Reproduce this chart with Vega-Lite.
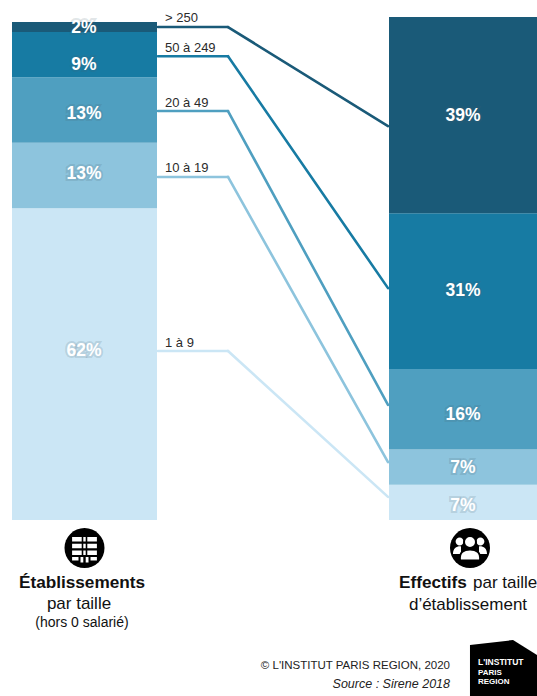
{
  "$schema": "https://vega.github.io/schema/vega-lite/v6.json",
  "width": 537,
  "height": 696,
  "padding": 0,
  "autosize": {"type": "none"},
  "background": "white",
  "config": {
    "view": {"stroke": null},
    "axis": {"disable": true},
    "legend": {"disable": true},
    "text": {"font": "Liberation Sans"}
  },
  "datasets": {
    "bars": [
      {"group": "etablissements", "size": "1 à 9", "rank": 1, "share": 62, "label": "62%", "labelAt": 33.5},
      {"group": "etablissements", "size": "10 à 19", "rank": 2, "share": 13, "label": "13%", "labelAt": 68.8},
      {"group": "etablissements", "size": "20 à 49", "rank": 3, "share": 13, "label": "13%", "labelAt": 80.7},
      {"group": "etablissements", "size": "50 à 249", "rank": 4, "share": 9, "label": "9%", "labelAt": 90.5},
      {"group": "etablissements", "size": "> 250", "rank": 5, "share": 2, "label": "2%", "labelAt": 97.8},
      {"group": "effectifs", "size": "1 à 9", "rank": 1, "share": 7, "label": "7%", "labelAt": 2.7},
      {"group": "effectifs", "size": "10 à 19", "rank": 2, "share": 7, "label": "7%", "labelAt": 10.3},
      {"group": "effectifs", "size": "20 à 49", "rank": 3, "share": 16, "label": "16%", "labelAt": 20.8},
      {"group": "effectifs", "size": "50 à 249", "rank": 4, "share": 31, "label": "31%", "labelAt": 45.5},
      {"group": "effectifs", "size": "> 250", "rank": 5, "share": 39, "label": "39%", "labelAt": 80.3}
    ],
    "links": [
      {"size": "1 à 9", "from": 33.6, "to": 4.6, "tagAt": 35.2},
      {"size": "10 à 19", "from": 68.2, "to": 11.5, "tagAt": 70},
      {"size": "20 à 49", "from": 81.3, "to": 22.9, "tagAt": 82.9},
      {"size": "50 à 249", "from": 92.2, "to": 46.1, "tagAt": 93.9},
      {"size": "> 250", "from": 98, "to": 78.3, "tagAt": 99.8}
    ]
  },
  "layer": [
    {
      "data": {"name": "bars"},
      "transform": [
        {"filter": "datum.group === 'etablissements'"},
        {"stack": "share", "groupby": ["group"], "sort": [{"field": "rank", "order": "ascending"}], "as": ["y0", "y1"]}
      ],
      "mark": {"type": "rect"},
      "encoding": {
        "x": {"datum": 12, "type": "quantitative", "scale": {"domain": [0, 537], "nice": false, "zero": false}},
        "x2": {"datum": 157},
        "y": {"field": "y0", "type": "quantitative", "scale": {"domain": [-34.99, 103.38], "nice": false, "zero": false}},
        "y2": {"field": "y1"},
        "color": {"field": "size", "type": "nominal", "scale": {"domain": ["> 250", "50 à 249", "20 à 49", "10 à 19", "1 à 9"], "range": ["#1a5a78", "#177ba3", "#4f9fc0", "#8dc4dd", "#cbe6f5"]}}
      }
    },
    {
      "data": {"name": "bars"},
      "transform": [
        {"filter": "datum.group === 'effectifs'"},
        {"stack": "share", "groupby": ["group"], "sort": [{"field": "rank", "order": "ascending"}], "as": ["y0", "y1"]}
      ],
      "mark": {"type": "rect"},
      "encoding": {
        "x": {"datum": 389, "type": "quantitative"},
        "x2": {"datum": 537},
        "y": {"field": "y0", "type": "quantitative"},
        "y2": {"field": "y1"},
        "color": {"field": "size", "type": "nominal"}
      }
    },
    {
      "data": {"name": "links"},
      "mark": {"type": "rule", "strokeWidth": 2.6, "strokeCap": "round"},
      "encoding": {
        "x": {"datum": 158, "type": "quantitative"},
        "x2": {"datum": 228},
        "y": {"field": "from", "type": "quantitative"},
        "color": {"field": "size", "type": "nominal"}
      }
    },
    {
      "data": {"name": "links"},
      "mark": {"type": "rule", "strokeWidth": 2.6, "strokeCap": "round"},
      "encoding": {
        "x": {"datum": 228, "type": "quantitative"},
        "x2": {"datum": 388},
        "y": {"field": "from", "type": "quantitative"},
        "y2": {"field": "to"},
        "color": {"field": "size", "type": "nominal"}
      }
    },
    {
      "data": {"name": "links"},
      "mark": {"type": "text", "align": "left", "baseline": "middle", "fontSize": 13, "fill": "#2b2b2b"},
      "encoding": {
        "x": {"datum": 165, "type": "quantitative"},
        "y": {"field": "tagAt", "type": "quantitative"},
        "text": {"field": "size"}
      }
    },
    {
      "data": {"name": "bars"},
      "transform": [{"filter": "datum.group === 'etablissements'"}],
      "mark": {"type": "text", "align": "center", "baseline": "middle", "fontSize": 17.5, "fontWeight": "bold", "stroke": "#46606e", "strokeWidth": 4, "strokeOpacity": 0.16, "fill": "transparent"},
      "encoding": {
        "x": {"datum": 84, "type": "quantitative"},
        "y": {"field": "labelAt", "type": "quantitative"},
        "text": {"field": "label"}
      }
    },
    {
      "data": {"name": "bars"},
      "transform": [{"filter": "datum.group === 'etablissements'"}],
      "mark": {"type": "text", "align": "center", "baseline": "middle", "fontSize": 17.5, "fontWeight": "bold", "fill": "white"},
      "encoding": {
        "x": {"datum": 84, "type": "quantitative"},
        "y": {"field": "labelAt", "type": "quantitative"},
        "text": {"field": "label"}
      }
    },
    {
      "data": {"name": "bars"},
      "transform": [{"filter": "datum.group === 'effectifs'"}],
      "mark": {"type": "text", "align": "center", "baseline": "middle", "fontSize": 17.5, "fontWeight": "bold", "stroke": "#46606e", "strokeWidth": 4, "strokeOpacity": 0.16, "fill": "transparent"},
      "encoding": {
        "x": {"datum": 463, "type": "quantitative"},
        "y": {"field": "labelAt", "type": "quantitative"},
        "text": {"field": "label"}
      }
    },
    {
      "data": {"name": "bars"},
      "transform": [{"filter": "datum.group === 'effectifs'"}],
      "mark": {"type": "text", "align": "center", "baseline": "middle", "fontSize": 17.5, "fontWeight": "bold", "fill": "white"},
      "encoding": {
        "x": {"datum": 463, "type": "quantitative"},
        "y": {"field": "labelAt", "type": "quantitative"},
        "text": {"field": "label"}
      }
    },
    {
      "data": {"values": [{"icon": "etablissements"}]},
      "mark": {"type": "point", "shape": "circle", "filled": true, "fill": "#000000", "size": 1600, "opacity": 1},
      "encoding": {"x": {"datum": 84.5, "type": "quantitative"}, "y": {"datum": -5.57, "type": "quantitative"}}
    },
    {
      "data": {"values": [{"icon": "etablissements"}]},
      "mark": {"type": "point", "filled": true, "fill": "#ffffff", "size": 1600, "opacity": 1,
        "shape": "M-.62 -.55H-.14V-.33H-.62ZM-.06 -.55H.06V-.33H-.06ZM.14 -.55H.62V-.33H.14ZM-.62 -.21H-.14V.01H-.62ZM-.06 -.21H.06V.01H-.06ZM.14 -.21H.62V.01H.14ZM-.62 .13H-.14V.35H-.62ZM-.06 .13H.06V.35H-.06ZM.14 .13H.62V.35H.14ZM-.2 .45H-.06V.72H-.2ZM.06 .45H.2V.72H.06ZM-.62 .45H-.3V.62H-.62ZM.3 .45H.62V.62H.3Z"},
      "encoding": {"x": {"datum": 84.5, "type": "quantitative"}, "y": {"datum": -5.57, "type": "quantitative"}}
    },
    {
      "data": {"values": [{"icon": "effectifs"}]},
      "mark": {"type": "point", "shape": "circle", "filled": true, "fill": "#000000", "size": 1600, "opacity": 1},
      "encoding": {"x": {"datum": 470, "type": "quantitative"}, "y": {"datum": -5.57, "type": "quantitative"}}
    },
    {
      "data": {"values": [{"icon": "effectifs"}]},
      "mark": {"type": "point", "filled": true, "fill": "#ffffff", "size": 1600, "opacity": 1,
        "shape": "M-.72 -.32a.2 .2 0 1 0 .4 0a.2 .2 0 1 0 -.4 0ZM.32 -.32a.2 .2 0 1 0 .4 0a.2 .2 0 1 0 -.4 0ZM-.85 .3C-.85 0 -.65 -.1 -.45 -.08L-.45 .3ZM.85 .3C.85 0 .65 -.1 .45 -.08L.45 .3Z"},
      "encoding": {"x": {"datum": 470, "type": "quantitative"}, "y": {"datum": -5.57, "type": "quantitative"}}
    },
    {
      "data": {"values": [{"icon": "effectifs"}]},
      "mark": {"type": "point", "filled": true, "fill": "#ffffff", "stroke": "#000000", "strokeWidth": 2, "size": 1600, "opacity": 1,
        "shape": "M-.3 -.3a.3 .3 0 1 0 .6 0a.3 .3 0 1 0 -.6 0ZM-.5 .62C-.55 .2 -.3 .08 0 .08C.3 .08 .55 .2 .5 .62Z"},
      "encoding": {"x": {"datum": 470, "type": "quantitative"}, "y": {"datum": -5.57, "type": "quantitative"}}
    },
    {
      "data": {"values": [{"t": "Établissements"}]},
      "mark": {"type": "text", "align": "center", "baseline": "middle", "fontSize": 17.2, "fontWeight": "bold", "fill": "#111111"},
      "encoding": {"x": {"datum": 82, "type": "quantitative"}, "y": {"datum": -12.53, "type": "quantitative"}, "text": {"field": "t"}}
    },
    {
      "data": {"values": [{"t": "par taille"}]},
      "mark": {"type": "text", "align": "center", "baseline": "middle", "fontSize": 17, "fill": "#111111"},
      "encoding": {"x": {"datum": 79, "type": "quantitative"}, "y": {"datum": -16.7, "type": "quantitative"}, "text": {"field": "t"}}
    },
    {
      "data": {"values": [{"t": "(hors 0 salarié)"}]},
      "mark": {"type": "text", "align": "center", "baseline": "middle", "fontSize": 14, "fill": "#111111"},
      "encoding": {"x": {"datum": 82, "type": "quantitative"}, "y": {"datum": -20.48, "type": "quantitative"}, "text": {"field": "t"}}
    },
    {
      "data": {"values": [{"t": "Effectifs"}]},
      "mark": {"type": "text", "align": "left", "baseline": "middle", "fontSize": 17.2, "fontWeight": "bold", "fill": "#111111"},
      "encoding": {"x": {"datum": 399, "type": "quantitative"}, "y": {"datum": -12.53, "type": "quantitative"}, "text": {"field": "t"}}
    },
    {
      "data": {"values": [{"t": "par taille"}]},
      "mark": {"type": "text", "align": "left", "baseline": "middle", "fontSize": 17, "fill": "#111111"},
      "encoding": {"x": {"datum": 473, "type": "quantitative"}, "y": {"datum": -12.53, "type": "quantitative"}, "text": {"field": "t"}}
    },
    {
      "data": {"values": [{"t": "d’établissement"}]},
      "mark": {"type": "text", "align": "center", "baseline": "middle", "fontSize": 17, "fill": "#111111"},
      "encoding": {"x": {"datum": 468, "type": "quantitative"}, "y": {"datum": -16.9, "type": "quantitative"}, "text": {"field": "t"}}
    },
    {
      "data": {"values": [{"t": "© L'INSTITUT PARIS REGION, 2020"}]},
      "mark": {"type": "text", "align": "right", "baseline": "middle", "fontSize": 11.5, "fill": "#222222"},
      "encoding": {"x": {"datum": 450, "type": "quantitative"}, "y": {"datum": -29.03, "type": "quantitative"}, "text": {"field": "t"}}
    },
    {
      "data": {"values": [{"t": "Source : Sirene 2018"}]},
      "mark": {"type": "text", "align": "right", "baseline": "middle", "fontSize": 12.5, "fontStyle": "italic", "fill": "#222222"},
      "encoding": {"x": {"datum": 450, "type": "quantitative"}, "y": {"datum": -32.61, "type": "quantitative"}, "text": {"field": "t"}}
    },
    {
      "data": {"values": [{"logo": "institut"}]},
      "mark": {"type": "point", "filled": true, "fill": "#000000", "size": 14400, "opacity": 1,
        "shape": "M-.667 -.75L.05 -.833L.45 -.583L.45 .15L-.667 .15Z"},
      "encoding": {"x": {"datum": 510, "type": "quantitative"}, "y": {"datum": -33.8, "type": "quantitative"}}
    },
    {
      "data": {"values": [{"t": "L'INSTITUT"}]},
      "mark": {"type": "text", "align": "left", "baseline": "middle", "fontSize": 8.5, "fontWeight": "bold", "fill": "#ffffff"},
      "encoding": {"x": {"datum": 478, "type": "quantitative"}, "y": {"datum": -28.23, "type": "quantitative"}, "text": {"field": "t"}}
    },
    {
      "data": {"values": [{"t": "PARIS"}]},
      "mark": {"type": "text", "align": "left", "baseline": "middle", "fontSize": 8, "fontWeight": "bold", "fill": "#ffffff"},
      "encoding": {"x": {"datum": 478, "type": "quantitative"}, "y": {"datum": -30.4, "type": "quantitative"}, "text": {"field": "t"}}
    },
    {
      "data": {"values": [{"t": "REGION"}]},
      "mark": {"type": "text", "align": "left", "baseline": "middle", "fontSize": 8, "fontWeight": "bold", "fill": "#ffffff"},
      "encoding": {"x": {"datum": 478, "type": "quantitative"}, "y": {"datum": -32.2, "type": "quantitative"}, "text": {"field": "t"}}
    }
  ]
}
